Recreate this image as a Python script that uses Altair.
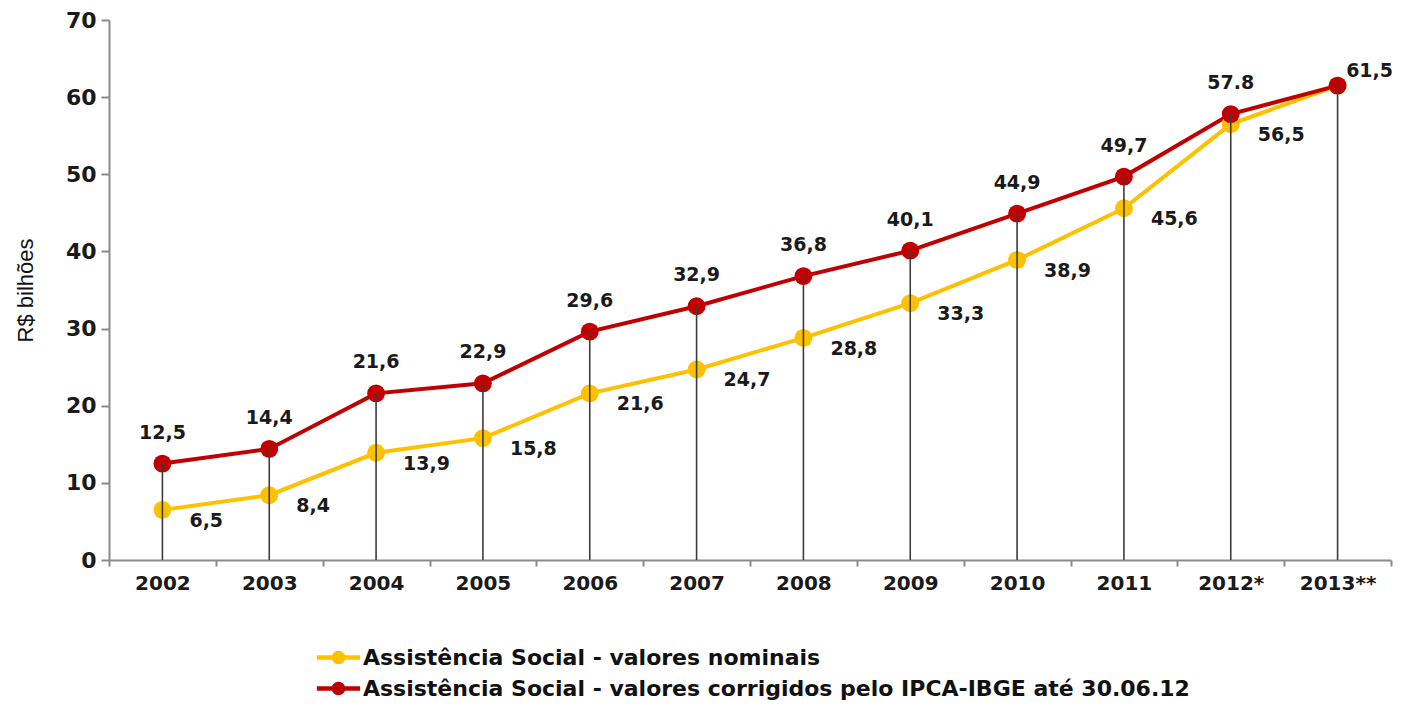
import altair as alt
import pandas as pd

years = ["2002", "2003", "2004", "2005", "2006", "2007", "2008", "2009", "2010", "2011", "2012*", "2013**"]
nominal = [6.5, 8.4, 13.9, 15.8, 21.6, 24.7, 28.8, 33.3, 38.9, 45.6, 56.5, 61.5]
corrected = [12.5, 14.4, 21.6, 22.9, 29.6, 32.9, 36.8, 40.1, 44.9, 49.7, 57.8, 61.5]
nominal_labels = ["6,5", "8,4", "13,9", "15,8", "21,6", "24,7", "28,8", "33,3", "38,9", "45,6", "56,5", ""]
corrected_labels = ["12,5", "14,4", "21,6", "22,9", "29,6", "32,9", "36,8", "40,1", "44,9", "49,7", "57.8", "61,5"]
series_names = [
    "Assistência Social - valores nominais",
    "Assistência Social - valores corrigidos pelo IPCA-IBGE até 30.06.12",
]
series_colors = ["#FFC000", "#C00000"]
y_ticks = [0, 10, 20, 30, 40, 50, 60, 70]

rows = []
for i, yr in enumerate(years):
    rows.append(dict(year=yr, series=series_names[0], value=nominal[i],
                     label=nominal_labels[i], pos="below"))
    rows.append(dict(year=yr, series=series_names[1], value=corrected[i],
                     label=corrected_labels[i],
                     pos="above" if i < len(years) - 1 else "end"))
long_df = pd.DataFrame(rows)
wide_df = pd.DataFrame(dict(year=years, top=[max(a, b) for a, b in zip(nominal, corrected)]))

FONT = "DejaVu Sans"

x_enc = alt.X(
    "year:N", sort=years,
    scale=alt.Scale(type="band", paddingInner=0, paddingOuter=0),
    axis=alt.Axis(
        title=None, labelAngle=0, tickBand="extent",
        labelFont=FONT, labelFontWeight="bold", labelFontSize=20, labelColor="#1a1a1a",
        labelPadding=7, tickSize=6, tickWidth=2, tickColor="#8a8a8a",
        domainColor="#8a8a8a", domainWidth=2,
    ),
)
y_scale = alt.Scale(domain=[0, 70], nice=False)
y_axis = alt.Axis(
    values=y_ticks, grid=False,
    labelFont=FONT, labelFontWeight="bold", labelFontSize=22, labelColor="#1a1a1a",
    labelPadding=5, tickSize=8, tickWidth=2, tickColor="#8a8a8a",
    domainColor="#8a8a8a", domainWidth=2,
    titleFont="Liberation Sans", titleFontSize=22, titleFontWeight="normal",
    titleColor="#111111", titlePadding=28,
)
y_enc = alt.Y("value:Q", scale=y_scale, axis=y_axis, title="R$ bilhões")

color_scale = alt.Scale(domain=series_names, range=series_colors)

legend_path = ("M-1.6,-0.17L1.6,-0.17L1.6,0.17L-1.6,0.17Z "
               "M0.5,0A0.5,0.5,0,1,1,-0.5,0A0.5,0.5,0,1,1,0.5,0Z")

base = alt.Chart(long_df)

line_nominal = base.transform_filter(alt.datum.series == series_names[0]).mark_line(
    strokeWidth=4, color=series_colors[0]
).encode(x=x_enc, y=y_enc)

line_corrected = base.transform_filter(alt.datum.series == series_names[1]).mark_line(
    strokeWidth=4, color=series_colors[1]
).encode(x=x_enc, y=y_enc)

points = base.mark_circle(size=320, opacity=1).encode(
    x=x_enc, y=y_enc,
    color=alt.Color(
        "series:N", scale=color_scale, sort=series_names,
        legend=alt.Legend(
            title=None, orient="none", legendX=216, legendY=624, direction="vertical",
            symbolType=legend_path, symbolSize=729, symbolStrokeWidth=0, symbolOpacity=1,
            labelFont=FONT, labelFontWeight="bold", labelFontSize=22, labelColor="#111111",
            labelOffset=11, labelLimit=2000, rowPadding=6, padding=0,
        ),
    ),
    order=alt.Order("series:N", sort="descending"),
)

rules = alt.Chart(wide_df).mark_rule(color="#3c3c3c", strokeWidth=1.6).encode(
    x=x_enc,
    y=alt.Y("top:Q", scale=y_scale, axis=y_axis, title="R$ bilhões"),
    y2=alt.datum(0),
)

text_style = dict(font=FONT, fontWeight="bold", fontSize=19, color="#1a1a1a", baseline="middle")

labels_above = base.transform_filter(alt.datum.pos == "above").mark_text(
    dy=-31, align="center", **text_style
).encode(x=x_enc, y=y_enc, text="label:N")

labels_below = base.transform_filter(
    (alt.datum.pos == "below") & (alt.datum.label != "")
).mark_text(dx=27, dy=11, align="left", **text_style).encode(x=x_enc, y=y_enc, text="label:N")

labels_end = base.transform_filter(alt.datum.pos == "end").mark_text(
    dx=32, dy=-15, align="center", **text_style
).encode(x=x_enc, y=y_enc, text="label:N")

chart = alt.layer(
    line_nominal, line_corrected, points, rules, labels_above, labels_below, labels_end
).properties(
    width=1282, height=540,
    autosize=alt.AutoSizeParams(type="none"),
    padding={"left": 101, "top": 12, "right": 5, "bottom": 144},
).configure(background="white", view=alt.ViewConfig(strokeWidth=0))

chart.save("out.html", embed_options={"renderer": "svg", "actions": False})
